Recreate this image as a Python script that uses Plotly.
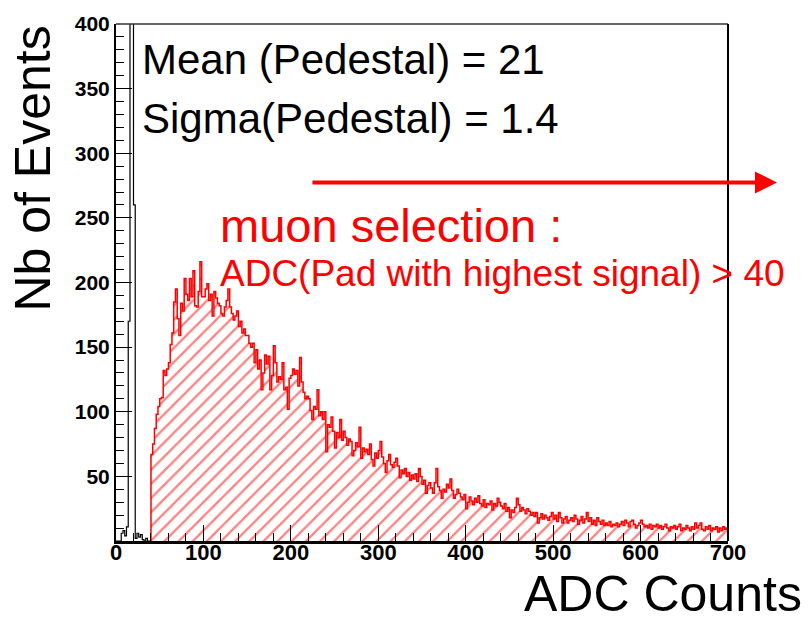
import plotly.graph_objects as go

# ---------------- data ----------------
bin_width = 2
ped_start = 0
ped_counts = [0, 0, 0, 6, 8, 4, 11, 170, 3000, 3200,
              260, 2, 6, 3, 5, 1, 0, 2, 0, 0]          # ADC 0-40, pedestal (clipped at 400 in plot)

muon_start = 40
muon_counts = [
    67, 75, 87, 98, 104, 110, 111, 132, 128, 133,      # 40-58
    138, 152, 161, 185, 195, 172, 159, 184, 178, 203,  # 60-78
    191, 186, 203, 189, 209, 182, 181, 193, 216, 189,  # 80-98
    189, 195, 199, 186, 191, 174, 193, 188, 184, 182,  # 100-118
    176, 174, 181, 186, 195, 181, 176, 171, 174, 178,  # 120-138
    166, 170, 161, 164, 159, 159, 153, 150, 153, 138,  # 140-158
    148, 133, 140, 117, 130, 144, 137, 143, 117, 128,  # 160-178
    151, 138, 123, 127, 125, 138, 117, 119, 102, 126,  # 180-198
    128, 133, 129, 132, 120, 142, 123, 115, 110, 112,  # 200-218
    110, 101, 94, 104, 102, 117, 97, 100, 94, 100,     # 220-238
    69, 90, 88, 96, 85, 72, 84, 80, 94, 78,            # 240-258
    85, 80, 74, 79, 77, 66, 70, 76, 73, 88,            # 260-278
    64, 72, 69, 71, 67, 75, 63, 58, 68, 64,            # 280-298
    70, 77, 65, 60, 53, 62, 67, 59, 57, 61,            # 300-318
    64, 58, 49, 55, 52, 56, 50, 53, 47, 51,            # 320-338
    48, 52, 46, 56, 50, 44, 47, 37, 43, 45,            # 340-358
    41, 37, 45, 56, 42, 39, 33, 40, 38, 44,            # 360-378
    41, 48, 39, 33, 36, 40, 37, 34, 32, 36,            # 380-398
    25, 30, 34, 31, 28, 33, 30, 35, 29, 27,            # 400-418
    32, 26, 29, 28, 31, 24, 29, 27, 33, 30,            # 420-438
    27, 25, 29, 23, 26, 18, 24, 22, 26, 33,            # 440-458
    28, 23, 26, 24, 21, 25, 23, 20, 22, 19,            # 460-478
    22, 14, 18, 21, 17, 20, 18, 16, 19, 22,            # 480-498
    17, 20, 15, 22, 18, 14, 17, 19, 14, 16,            # 500-518
    18, 15, 20, 17, 13, 16, 19, 14, 17, 22,            # 520-538
    15, 18, 13, 16, 12, 18, 15, 13, 16, 12,            # 540-558
    14, 12, 15, 11, 13, 12, 14, 11, 13, 15,            # 560-578
    12, 16, 14, 11, 15, 16, 13, 10, 12, 14,            # 580-598
    16, 13, 11, 12, 10, 13, 9, 12, 11, 13,             # 600-618
    10, 12, 9, 11, 13, 10, 8, 11, 10, 12,              # 620-638
    9, 11, 13, 8, 10, 9, 12, 10, 8, 11,                # 640-658
    9, 14, 10, 12, 14, 9, 8, 11, 9, 12,                # 660-678
    8, 10, 9, 11, 7, 10, 8, 11, 9, 10,                 # 680-698
]

x_ticks = [0, 100, 200, 300, 400, 500, 600, 700]
y_ticks = [50, 100, 150, 200, 250, 300, 350, 400]

stat_lines = ["Mean (Pedestal) = 21", "Sigma(Pedestal) = 1.4"]
sel_title = "muon selection :"
sel_text = "ADC(Pad with highest signal) > 40"


def step_path(start, width, counts):
    edges = [start + width * i for i in range(len(counts) + 1)]
    xs = [edges[0]] + edges[:-1] + [edges[-1], edges[-1]]
    ys = [0] + list(counts) + [counts[-1], 0]
    return xs, ys


FONT = "Liberation Sans, Arial, sans-serif"

fig = go.Figure()

mx, my = step_path(muon_start, bin_width, muon_counts)
fig.add_trace(go.Scatter(
    x=mx, y=my, mode="lines", line=dict(color="#ff0000", width=1.5, shape="hv"),
    fill="tozeroy", fillcolor="rgba(0,0,0,0)",
    fillpattern=dict(shape="/", fgcolor="#ff0000", bgcolor="white", size=10, solidity=0.22),
    hoverinfo="skip", showlegend=False))

px_, py_ = step_path(ped_start, bin_width, ped_counts)
fig.add_trace(go.Scatter(
    x=px_, y=py_, mode="lines", line=dict(color="black", width=1.2, shape="hv"),
    hoverinfo="skip", showlegend=False))

fig.update_layout(
    width=811, height=622,
    margin=dict(l=116, r=83, t=16, b=81),
    paper_bgcolor="white", plot_bgcolor="white",
    font=dict(family=FONT, color="black"),
    xaxis=dict(range=[0, 700], tickvals=x_ticks, ticks="inside", ticklen=16, tickwidth=1.2,
               tickcolor="black", showgrid=False, zeroline=False, showline=True,
               linecolor="black", linewidth=3, ticklabelstandoff=-10,
               tickfont=dict(family=FONT, size=22, color="black", weight="bold"),
               minor=dict(dtick=20, tick0=0, ticks="inside", ticklen=8, tickcolor="black", showgrid=False)),
    yaxis=dict(range=[0, 400], tickvals=y_ticks, ticks="inside", ticklen=16, tickwidth=1.2,
               tickcolor="black", showgrid=False, zeroline=False, showline=True,
               linecolor="black", linewidth=2,
               tickfont=dict(family=FONT, size=21, color="black", weight="bold"),
               minor=dict(dtick=10, tick0=0, ticks="inside", ticklen=8, tickcolor="black", showgrid=False)),
)

# frame top / right
fig.add_shape(type="line", xref="paper", yref="paper", x0=0, x1=1, y0=1, y1=1,
              line=dict(color="#333333", width=1.5))
fig.add_shape(type="line", xref="paper", yref="paper", x0=1, x1=1, y0=0, y1=1,
              line=dict(color="black", width=2))

ann = []
ann.append(dict(text=stat_lines[0], xref="paper", yref="paper", x=0.039, y=0.931,
                xanchor="left", yanchor="middle", showarrow=False,
                font=dict(family=FONT, size=42, color="black")))
ann.append(dict(text=stat_lines[1], xref="paper", yref="paper", x=0.039, y=0.817,
                xanchor="left", yanchor="middle", showarrow=False,
                font=dict(family=FONT, size=42, color="black")))
ann.append(dict(text=sel_title, xref="paper", yref="paper", x=0.166, y=0.610,
                xanchor="left", yanchor="middle", showarrow=False,
                font=dict(family=FONT, size=47, color="#ff0000")))
ann.append(dict(text=sel_text, xref="paper", yref="paper", x=0.166, y=0.518,
                xanchor="left", yanchor="middle", showarrow=False,
                font=dict(family=FONT, size=37, color="#ff0000")))
# arrow
ann.append(dict(text="", xref="paper", yref="paper", x=1.08, y=0.6933,
                ax=-466, ay=0, showarrow=True, arrowhead=2, arrowsize=1.1,
                arrowwidth=4, arrowcolor="#ff0000"))
# axis titles
ann.append(dict(text="ADC Counts", xref="paper", yref="paper", x=1.1245, y=-0.103,
                xanchor="right", yanchor="middle", showarrow=False, height=50,
                font=dict(family=FONT, size=50, color="black")))
ann.append(dict(text="Nb of Events", xref="paper", yref="paper", x=-0.136, y=0.72,
                xanchor="center", yanchor="middle", textangle=-90, showarrow=False,
                font=dict(family=FONT, size=50, color="black")))
fig.update_layout(annotations=ann)

fig.write_html("out.html")
